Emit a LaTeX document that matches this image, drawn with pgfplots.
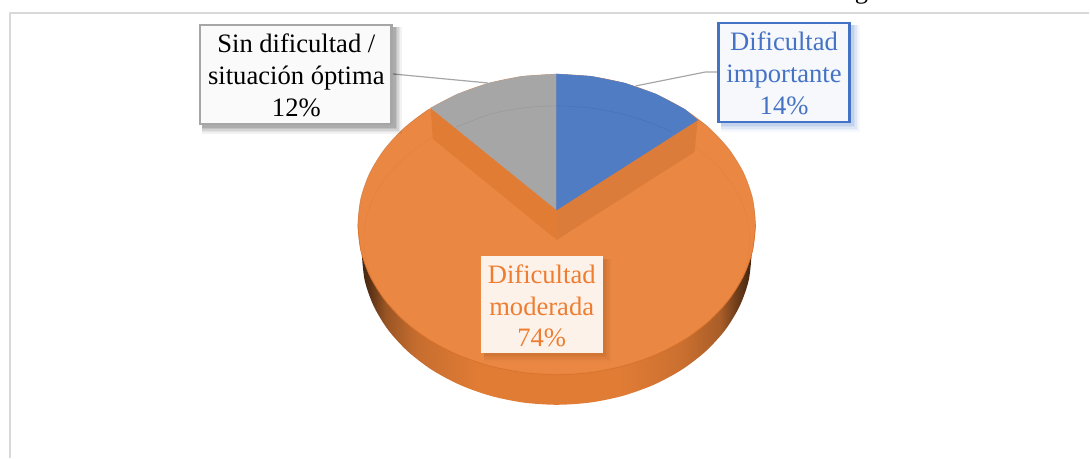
\documentclass[border=0pt]{standalone}
\usepackage{pgfplots}
\pgfplotsset{compat=1.18}
\usepackage{fontspec}
\setmainfont{Liberation Serif}
\definecolor{ctop}{HTML}{EA8743}
\definecolor{cwallL}{HTML}{E17C35}
\definecolor{cwallR}{HTML}{DB7C3B}
\definecolor{cblue}{HTML}{4F7CC3}
\definecolor{cgray}{HTML}{A6A6A6}
\definecolor{cline}{HTML}{D9D9D9}
\definecolor{lblue}{HTML}{4472C4}
\definecolor{lorange}{HTML}{ED7D31}
\definecolor{rim}{HTML}{D8722C}
\pgfdeclarehorizontalshading{sideshade}{100bp}{
  color(0bp)=(black!70!cwallL);
  color(25bp)=(black!70!cwallL);
  color(26bp)=(black!60!cwallL);
  color(28bp)=(black!32!cwallL);
  color(32bp)=(black!12!cwallL);
  color(40bp)=(cwallL);
  color(58bp)=(cwallL);
  color(66bp)=(black!10!cwallL);
  color(71bp)=(black!25!cwallL);
  color(73bp)=(black!50!cwallL);
  color(75bp)=(black!72!cwallL);
  color(100bp)=(black!72!cwallL)}
\newcommand{\shad}[5]{%
  \fill[#5,opacity=.05] (axis cs:#1+3,#2+3) rectangle (axis cs:#3+9,#4+9);
  \fill[#5,opacity=.06] (axis cs:#1+3,#2+3) rectangle (axis cs:#3+7.5,#4+7.5);
  \fill[#5,opacity=.07] (axis cs:#1+3,#2+3) rectangle (axis cs:#3+6,#4+6);
  \fill[#5,opacity=.09] (axis cs:#1+3,#2+3) rectangle (axis cs:#3+4.5,#4+4.5);
  \fill[#5,opacity=.11] (axis cs:#1+3,#2+3) rectangle (axis cs:#3+3,#4+3);
}
\begin{document}
\begin{tikzpicture}[x=1pt,y=1pt]
\begin{axis}[
  scale only axis,width=1090pt,height=458pt,
  xmin=0,xmax=1090,ymin=0,ymax=458,y dir=reverse,
  axis lines=none,clip=false,
  every axis plot/.append style={line join=round}]
\path (axis cs:0,0) rectangle (axis cs:1090,458);
% frame
\addplot[cline,line width=1.2pt] coordinates {(10,458)(10,13)(1090,13)};
% side of the pie
\addplot[smooth,draw=none,shading=sideshade] coordinates {
 (362,254.5)(364.9,280.6)(373.8,306)(388.1,329.75)(407.6,351.2)(431.7,369.8)(459.5,384.8)(490.3,395.9)(523.1,402.7)(557,405)
 (590.9,402.7)(623.7,395.9)(654.5,384.8)(682.3,369.8)(706.4,351.2)(725.9,329.75)(740.2,306)(749.1,280.6)(752,254.5)} -- cycle;
% top surface
\addplot[smooth,fill=ctop,draw=none] coordinates {
 (557,74)(591.6,76.3)(625.1,83.1)(656.5,94.2)(684.9,109.2)(709.4,127.8)(729.3,149.25)(744,173)(753,198.4)(756,224.5)
 (753,250.6)(744,276)(729.3,299.75)(709.4,321.2)(684.9,339.8)(656.5,354.8)(625.1,365.9)(591.6,372.7)(557,375)
 (522.4,372.7)(488.9,365.9)(457.5,354.8)(429.1,339.8)(404.6,321.2)(384.7,299.75)(370,276)(361,250.6)(358,224.5)
 (361,198.4)(370,173)(384.7,149.25)(404.6,127.8)(429.1,109.2)(457.5,94.2)(488.9,83.1)(522.4,76.3)(557,74)};
% rim, front edge
\addplot[smooth,rim,line width=.7pt] coordinates {
 (756,224.5)(753,250.6)(744,276)(729.3,299.75)(709.4,321.2)(684.9,339.8)(656.5,354.8)(625.1,365.9)(591.6,372.7)(557,375)
 (522.4,372.7)(488.9,365.9)(457.5,354.8)(429.1,339.8)(404.6,321.2)(384.7,299.75)(370,276)(361,250.6)(358,224.5)};
% rim, back edge
\addplot[smooth,rim!70!gray,opacity=.6,line width=.5pt] coordinates {
 (358,224.5)(361,198.4)(370,173)(384.7,149.25)(404.6,127.8)(429.1,109.2)};
\addplot[smooth,rim!70!gray,opacity=.6,line width=.5pt] coordinates {
 (698,120)(709.4,127.8)(729.3,149.25)(744,173)(753,198.4)(756,224.5)};
% bevel line
\addplot[smooth,rim,opacity=.25,line width=.5pt] coordinates {
 (433,137.4)(409.2,153.9)(389.9,173)(375.6,194.2)(366.9,216.7)(364,240)(366.9,263.3)(375.6,285.8)(389.9,307)(409.2,326.1)(432.9,342.6)(460.5,356)(491,365.9)(523.5,372)(557,374)
 (590.5,372)(623,365.9)(653.5,356)(681.1,342.6)(704.8,326.1)(724.1,307)(738.4,285.8)(747.1,263.3)(750,240)(747.1,216.7)(738.4,194.2)(724.1,173)(704.8,153.9)(695,146)};
% inner walls
\addplot[draw=none,fill=cwallL] coordinates {(431,108)(433,139)(557,240)(557,210)} -- cycle;
\addplot[draw=none,fill=cwallR] coordinates {(557,210)(557,240)(695,152)(698,120)} -- cycle;
% wedges
\addplot[fill=cgray,draw=cgray,line width=.4pt] coordinates {(557,210)(431,108)(457.5,94.2)(488.9,83.1)(522.4,76.3)(557,74)} -- cycle;
\addplot[fill=cblue,draw=cblue,line width=.4pt] coordinates {(557,210)(557,74)(591.6,76.3)(625.1,83.1)(656.5,94.2)(684.9,109.2)(698,120)} -- cycle;
\addplot[smooth,black,opacity=.07,line width=.6pt] coordinates {(457,127)(491,114.1)(523.5,108)(557,106)(590.5,108)(623,114.1)(653.5,124)(672,132)};
% leader lines
\addplot[cgray,line width=1.2pt] coordinates {(393,74)(488,83)};
\addplot[cgray,line width=1.2pt] coordinates {(718,72)(706,72)(636,86)};
% label boxes
\shad{199}{24}{393}{125}{black}
\shad{718}{22}{851}{123}{lblue}
\shad{481}{256}{603}{353}{black!30!lorange}
\filldraw[fill=black!2,draw=cgray,line width=2.6pt] (axis cs:200,25) rectangle (axis cs:392,124);
\filldraw[fill=lblue!5,draw=lblue,line width=2.6pt] (axis cs:719,23) rectangle (axis cs:850,122);
\fill[lorange!10] (axis cs:481,256) rectangle (axis cs:603,353);
\node[align=center,font=\fontsize{26.6}{31.7}\selectfont,text=black] at (axis cs:296.5,75.5) {Sin dificultad /\\situación óptima\\12\%};
\node[align=center,font=\fontsize{26.6}{31.7}\selectfont,text=lblue] at (axis cs:784.5,73.5) {Dificultad\\importante\\14\%};
\node[align=center,font=\fontsize{26.6}{31.7}\selectfont,text=lorange] at (axis cs:542,306) {Dificultad\\moderada\\74\%};
\node[overlay,font=\fontsize{26.6}{31.7}\selectfont,text=black,anchor=base] at (axis cs:862,-2) {g};
\end{axis}
\end{tikzpicture}
\end{document}
